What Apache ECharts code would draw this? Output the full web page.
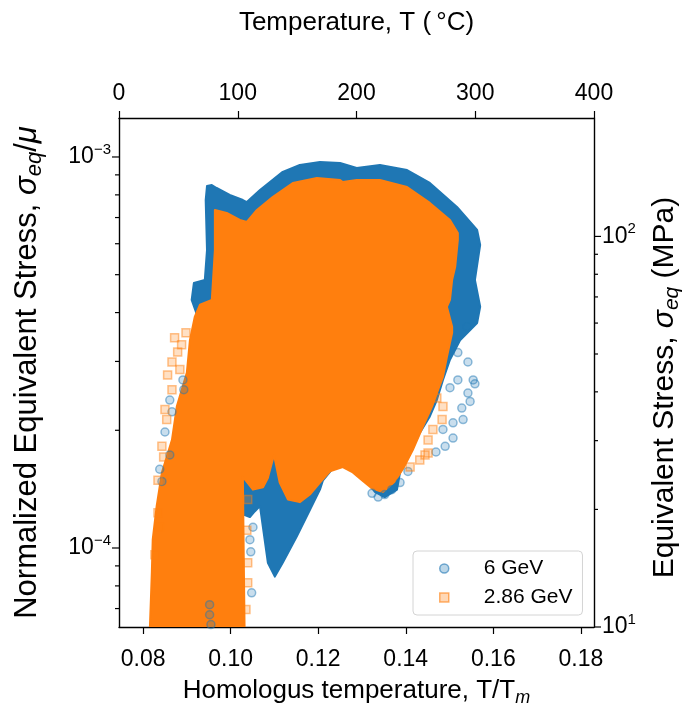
<!DOCTYPE html>
<html>
<head>
<meta charset="utf-8">
<title>Equivalent stress vs homologous temperature</title>
<script src="https://cdn.jsdelivr.net/npm/echarts@6/dist/echarts.min.js"></script>
<style>
  html, body { margin: 0; padding: 0; background: #fff; }
  #chart { width: 683px; height: 703px; }
</style>
</head>
<body>
<div id="chart"></div>
<script>
// axis ranges
const homTempRange = [0.0745, 0.183]
const tempRange = [0, 400]
const normStressRange = [6.28e-5, 1.258e-3]
const stressRange = [10, 201]

// tick values
const homTempTicks = [0.08, 0.10, 0.12, 0.14, 0.16, 0.18]
const tempTicks = [0, 100, 200, 300, 400]
const normStressMajor = [1e-4, 1e-3]
const normStressMinor = [7e-5, 8e-5, 9e-5, 2e-4, 3e-4, 4e-4, 5e-4, 6e-4, 7e-4, 8e-4, 9e-4]
const stressMajor = [10, 100]
const stressMinor = [20, 30, 40, 50, 60, 70, 80, 90]

// outline of the dense 6 GeV cloud, [T/Tm, sigma_eq/mu]
const blueCloud = [
  [0.0946, 8.43e-4], [0.0957, 8.48e-4], [0.0968, 8.33e-4], [0.0998, 8.00e-4], [0.1028, 7.76e-4],
  [0.1037, 7.67e-4], [0.1067, 8.23e-4], [0.1119, 9.16e-4], [0.1158, 9.54e-4], [0.1204, 9.71e-4],
  [0.1250, 9.65e-4], [0.1288, 9.37e-4], [0.1341, 9.54e-4], [0.1403, 9.26e-4], [0.1455, 8.58e-4],
  [0.1517, 7.45e-4], [0.1563, 6.51e-4], [0.1570, 5.96e-4], [0.1558, 4.85e-4], [0.1570, 4.14e-4],
  [0.1563, 3.76e-4], [0.1524, 3.40e-4], [0.1501, 3.03e-4], [0.1485, 2.69e-4], [0.1471, 2.39e-4],
  [0.1455, 2.17e-4], [0.1432, 1.97e-4], [0.1410, 1.75e-4], [0.1387, 1.56e-4], [0.1380, 1.41e-4],
  [0.1352, 1.35e-4], [0.1330, 1.39e-4], [0.1272, 1.68e-4], [0.1234, 1.60e-4], [0.1211, 1.49e-4],
  [0.1204, 1.41e-4], [0.1181, 1.25e-4], [0.1151, 1.07e-4], [0.1119, 9.17e-5], [0.1101, 8.45e-5],
  [0.1085, 9.17e-5], [0.1067, 1.28e-4], [0.1055, 1.24e-4], [0.1044, 1.20e-4], [0.1028, 1.22e-4],
  [0.1021, 1.59e-4], [0.0964, 4.06e-4], [0.0923, 3.95e-4], [0.0911, 4.31e-4], [0.0916, 4.76e-4],
  [0.0941, 4.85e-4], [0.0946, 5.78e-4], [0.0943, 7.76e-4]
]

// outline of the dense 2.86 GeV cloud
const orangeCloud = [
  [0.0964, 7.32e-4], [0.0991, 7.19e-4], [0.1021, 6.90e-4], [0.1037, 6.82e-4], [0.1060, 7.32e-4],
  [0.1096, 7.90e-4], [0.1142, 8.58e-4], [0.1197, 8.84e-4], [0.1250, 8.73e-4], [0.1256, 8.63e-4],
  [0.1288, 8.73e-4], [0.1341, 8.73e-4], [0.1403, 8.38e-4], [0.1455, 7.63e-4], [0.1501, 6.90e-4],
  [0.1519, 6.39e-4], [0.1519, 6.14e-4], [0.1513, 5.24e-4], [0.1506, 4.85e-4], [0.1501, 4.31e-4],
  [0.1494, 4.14e-4], [0.1506, 3.68e-4], [0.1506, 3.55e-4], [0.1494, 3.08e-4], [0.1485, 2.74e-4],
  [0.1474, 2.54e-4], [0.1460, 2.30e-4], [0.1439, 2.04e-4], [0.1416, 1.78e-4], [0.1396, 1.61e-4],
  [0.1375, 1.48e-4], [0.1348, 1.39e-4], [0.1323, 1.42e-4], [0.1300, 1.49e-4], [0.1279, 1.56e-4],
  [0.1256, 1.61e-4], [0.1227, 1.57e-4], [0.1204, 1.47e-4], [0.1181, 1.37e-4], [0.1158, 1.31e-4],
  [0.1131, 1.33e-4], [0.1112, 1.47e-4], [0.1099, 1.73e-4], [0.1085, 1.51e-4], [0.1074, 1.43e-4],
  [0.1051, 1.41e-4], [0.1028, 1.52e-4], [0.1030, 9.34e-5], [0.1032, 6.0e-5], [0.0815, 6.0e-5],
  [0.0820, 8.65e-5], [0.0822, 1.05e-4], [0.0831, 1.28e-4], [0.0843, 1.56e-4], [0.0866, 1.89e-4],
  [0.0877, 2.30e-4], [0.0900, 2.81e-4], [0.0907, 3.40e-4], [0.0918, 3.90e-4], [0.0930, 4.19e-4],
  [0.0957, 4.31e-4], [0.0964, 5.78e-4]
]

// loose points around the clouds
const blueStray = [
  [0.0891, 2.69e-4], [0.0893, 2.54e-4], [0.0861, 2.39e-4], [0.0866, 2.23e-4], [0.0850, 1.98e-4],
  [0.0861, 1.73e-4], [0.0838, 1.59e-4], [0.0843, 1.48e-4],
  [0.1051, 1.13e-4], [0.1044, 1.05e-4], [0.1046, 9.78e-5], [0.1048, 7.68e-5],
  [0.0952, 7.16e-5], [0.0952, 6.75e-5], [0.0955, 6.37e-5],
  [0.1540, 3.68e-4], [0.1519, 3.16e-4], [0.1542, 2.99e-4], [0.1519, 2.69e-4], [0.1501, 2.57e-4],
  [0.1554, 2.69e-4], [0.1558, 2.63e-4], [0.1542, 2.49e-4], [0.1547, 2.37e-4], [0.1528, 2.28e-4],
  [0.1531, 2.13e-4], [0.1508, 2.09e-4], [0.1485, 2.01e-4], [0.1508, 1.91e-4], [0.1490, 1.82e-4],
  [0.1469, 1.76e-4],
  [0.1352, 1.37e-4], [0.1337, 1.35e-4], [0.1368, 1.41e-4], [0.1323, 1.38e-4], [0.1387, 1.47e-4],
  [0.1405, 1.57e-4]
]
const orangeStray = [
  [0.0872, 3.45e-4], [0.0888, 3.31e-4], [0.0898, 3.55e-4], [0.0879, 3.17e-4], [0.0866, 2.99e-4],
  [0.0884, 2.86e-4], [0.0856, 2.77e-4], [0.0866, 2.54e-4], [0.0850, 2.26e-4], [0.0854, 2.13e-4],
  [0.0843, 1.82e-4], [0.0847, 1.71e-4], [0.0834, 1.49e-4], [0.0834, 1.23e-4], [0.0838, 1.13e-4],
  [0.0827, 9.61e-5],
  [0.1039, 1.33e-4], [0.1037, 1.11e-4], [0.1039, 9.17e-5], [0.1039, 8.15e-5], [0.1035, 6.96e-5],
  [0.1485, 2.30e-4], [0.1483, 2.13e-4], [0.1462, 2.01e-4], [0.1451, 1.89e-4], [0.1451, 1.75e-4],
  [0.1432, 1.68e-4], [0.1410, 1.61e-4], [0.1471, 2.42e-4], [0.1444, 1.73e-4]
]

const FONT = "'Liberation Sans', Arial, Helvetica, sans-serif"
const BLUE = '#1f77b4'
const ORANGE = '#ff7f0e'
const blueMarker = { color: 'rgba(31,119,180,0.3)', borderColor: 'rgba(31,119,180,0.6)', borderWidth: 1.5 }
const orangeMarker = { color: 'rgba(255,127,14,0.3)', borderColor: 'rgba(255,127,14,0.6)', borderWidth: 1.5 }

const supRich = {
  b: { fontSize: 23, fontFamily: FONT, color: '#000', lineHeight: 30 },
  s: { fontSize: 15, fontFamily: FONT, color: '#000', lineHeight: 15, verticalAlign: 'top' }
}
function nameRich(size) {
  return {
    n: { fontSize: size, fontFamily: FONT, color: '#000', lineHeight: size + 7 },
    i: { fontSize: size, fontFamily: FONT, color: '#000', fontStyle: 'italic', lineHeight: size + 7 },
    sub: { fontSize: Math.round(size * 0.7), fontFamily: FONT, color: '#000', fontStyle: 'italic', lineHeight: size, verticalAlign: 'bottom' }
  }
}

function powerLabel(v) {
  const e = Math.log10(v)
  const r = Math.round(e)
  if (Math.abs(e - r) > 1e-6) return ''
  return '{b|10}{s|' + (r < 0 ? '\u2212' + (-r) : r) + '}'
}

function cloudSeries(name, pts, color) {
  return {
    name: name,
    type: 'custom',
    coordinateSystem: 'cartesian2d',
    xAxisIndex: 0,
    yAxisIndex: 0,
    clip: true,
    silent: true,
    data: [pts[0]],
    renderItem(params, api) {
      return {
        type: 'polygon',
        shape: { points: pts.map(p => api.coord(p)) },
        style: { fill: color, stroke: color, lineWidth: 2, lineJoin: 'round' }
      }
    }
  }
}

// log-axis ticks (major + 2..9 minors) drawn through the axis scale
function tickSeries(yIndex, values, atX, dir, len) {
  return {
    type: 'custom',
    coordinateSystem: 'cartesian2d',
    xAxisIndex: 0,
    yAxisIndex: yIndex,
    clip: false,
    silent: true,
    z: 6,
    data: values.map(v => [atX, v]),
    renderItem(params, api) {
      const p = api.coord([api.value(0), api.value(1)])
      return {
        type: 'line',
        shape: { x1: p[0], y1: p[1], x2: p[0] + dir * len, y2: p[1] },
        style: { stroke: '#000', lineWidth: 1.2 }
      }
    }
  }
}

const axisLine = { show: true, lineStyle: { color: '#000', width: 1.4 } }

const option = {
  animation: false,
  backgroundColor: '#fff',
  textStyle: { fontFamily: FONT },
  grid: { left: 119, right: 89, top: 118, bottom: 76, containLabel: false, outerBoundsMode: 'none' },
  legend: {
    orient: 'vertical',
    left: 413,
    top: 551,
    data: [
      { name: '6 GeV', icon: 'circle', itemStyle: blueMarker },
      { name: '2.86 GeV', icon: 'rect', itemStyle: orangeMarker }
    ],
    itemWidth: 9,
    itemHeight: 9,
    itemGap: 8,
    padding: [7, 10, 7, 26],
    backgroundColor: '#fff',
    borderColor: '#d4d4d4',
    borderWidth: 1,
    borderRadius: 4,
    textStyle: { fontSize: 21, color: '#000', fontFamily: FONT, padding: [0, 0, 0, 30] }
  },
  xAxis: [
    {
      type: 'value',
      position: 'bottom',
      min: homTempRange[0],
      max: homTempRange[1],
      axisLine: axisLine,
      axisTick: { show: true, customValues: homTempTicks, length: 7, lineStyle: { color: '#000', width: 1.2 } },
      axisLabel: { customValues: homTempTicks, formatter: v => v.toFixed(2), fontSize: 23, color: '#000', margin: 21, fontFamily: FONT },
      splitLine: { show: false },
      name: '{n|Homologus temperature, T/T}{sub|m}',
      nameLocation: 'middle',
      nameGap: 47,
      nameTextStyle: { rich: nameRich(26) }
    },
    {
      type: 'value',
      position: 'top',
      min: tempRange[0],
      max: tempRange[1],
      axisLine: axisLine,
      axisTick: { show: true, customValues: tempTicks, length: 7, lineStyle: { color: '#000', width: 1.2 } },
      axisLabel: { customValues: tempTicks, fontSize: 23, color: '#000', margin: 13, fontFamily: FONT },
      splitLine: { show: false },
      name: 'Temperature, T (\u2009\u00b0C)',
      nameLocation: 'middle',
      nameGap: 82,
      nameTextStyle: { fontSize: 26, color: '#000', fontFamily: FONT }
    }
  ],
  yAxis: [
    {
      type: 'log',
      logBase: 10,
      position: 'left',
      min: normStressRange[0],
      max: normStressRange[1],
      axisLine: axisLine,
      axisTick: { show: false },
      axisLabel: { formatter: powerLabel, margin: 8, rich: supRich, showMinLabel: false, showMaxLabel: false },
      splitLine: { show: false },
      name: '{n|Normalized Equivalent Stress, }{i|\u03c3}{sub|eq}{n|/}{i|\u03bc}',
      nameLocation: 'middle',
      nameRotate: 90,
      nameGap: 73,
      nameTextStyle: { rich: nameRich(31) }
    },
    {
      type: 'log',
      logBase: 10,
      position: 'right',
      min: stressRange[0],
      max: stressRange[1],
      axisLine: axisLine,
      axisTick: { show: false },
      axisLabel: { formatter: powerLabel, margin: 8, rich: supRich, showMinLabel: true, showMaxLabel: false },
      splitLine: { show: false },
      name: '{n|Equivalent Stress, }{i|\u03c3}{sub|eq}{n| (MPa)}',
      nameLocation: 'middle',
      nameRotate: 90,
      nameGap: 52,
      nameTextStyle: { rich: nameRich(30), padding: [0, 30, 0, 0] }
    }
  ],
  series: [
    cloudSeries('6 GeV', blueCloud, BLUE),
    {
      name: '6 GeV',
      type: 'scatter',
      xAxisIndex: 0,
      yAxisIndex: 0,
      symbol: 'circle',
      symbolSize: 8,
      itemStyle: blueMarker,
      data: blueStray
    },
    cloudSeries('2.86 GeV', orangeCloud, ORANGE),
    {
      name: '2.86 GeV',
      type: 'scatter',
      xAxisIndex: 0,
      yAxisIndex: 0,
      symbol: 'rect',
      symbolSize: 8,
      itemStyle: orangeMarker,
      data: orangeStray
    },
    tickSeries(0, normStressMajor, homTempRange[0], -1, 7),
    tickSeries(0, normStressMinor, homTempRange[0], -1, 4),
    tickSeries(1, stressMajor, homTempRange[1], 1, 7),
    tickSeries(1, stressMinor, homTempRange[1], 1, 4)
  ]
}

const myChart = echarts.init(document.getElementById('chart'))
myChart.setOption(option)
window.addEventListener('resize', () => {
  myChart.resize()
})
</script>
</body>
</html>
